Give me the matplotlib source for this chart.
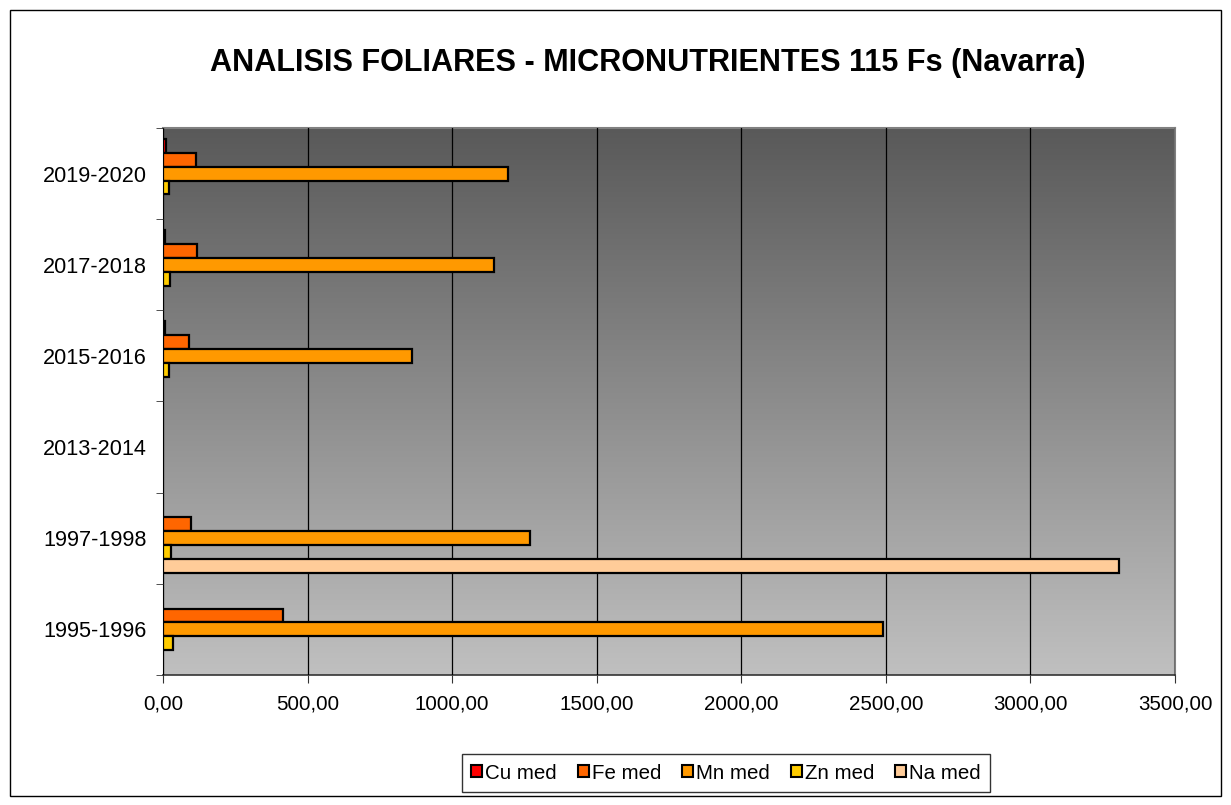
import matplotlib.pyplot as plt
import matplotlib.patches as mpatches
from matplotlib.colors import LinearSegmentedColormap
import numpy as np

plt.rcParams['font.family'] = ['Liberation Sans', 'DejaVu Sans']

periodos = ['1995-1996', '1997-1998', '2013-2014', '2015-2016', '2017-2018', '2019-2020']
cu_med = [np.nan, np.nan, np.nan, 7, 7, 9]
fe_med = [414, 97, np.nan, 91, 118, 113]
mn_med = [2490, 1268, np.nan, 862, 1145, 1193]
zn_med = [33, 26, np.nan, 22, 24, 21]
na_med = [np.nan, 3305, np.nan, np.nan, np.nan, np.nan]

series = ['Cu med', 'Fe med', 'Mn med', 'Zn med', 'Na med']
colores = ['#FF0000', '#FF6600', '#FF9900', '#FFCC00', '#FFCC99']

fig = plt.figure(figsize=(12.31, 8.05), dpi=100)
ax = fig.add_axes([163/1231, 1-675/805, 1012/1231, 547/805])

# fondo degradado (oscuro arriba, claro abajo)
grad = np.linspace(0, 1, 256).reshape(-1, 1)
cmap = LinearSegmentedColormap.from_list('fondo', ['#595959', '#C0C0C0'])
ax.imshow(grad, aspect='auto', cmap=cmap, extent=[0, 3500, -0.5, 5.5],
          origin='upper', zorder=0)

y = np.arange(len(periodos))
h = 0.152
datos = [cu_med, fe_med, mn_med, zn_med, na_med]
for i, (vals, c, lab) in enumerate(zip(datos, colores, series)):
    off = (2 - i) * h
    ax.barh(y + off, vals, height=h, color=c, edgecolor='black', linewidth=1.6,
            label=lab, zorder=3)

ax.set_xlim(0, 3500)
ax.set_ylim(-0.5, 5.5)
ax.set_xticks(np.arange(0, 3501, 500))
ax.set_xticklabels(['%d,00' % v for v in np.arange(0, 3501, 500)], fontsize=14.8)
ax.set_yticks(y)
ax.set_yticklabels(periodos, fontsize=15.6)
ax.set_yticks(np.arange(-0.5, 5.6, 1), minor=True)
ax.tick_params(axis='y', which='major', length=0, pad=11.5)
ax.tick_params(axis='y', which='minor', length=5, direction='out', color='#333333')
ax.tick_params(axis='x', length=6, direction='out', pad=8, color='#333333')
ax.grid(axis='x', color='black', linewidth=0.9, zorder=1)
ax.set_axisbelow(False)
for s in ['top', 'right']:
    ax.spines[s].set_color('#808080')
    ax.spines[s].set_linewidth(1.5)
ax.spines['left'].set_color('#555555')
ax.spines['bottom'].set_color('#333333')
ax.spines['bottom'].set_linewidth(1.2)

fig.text(648/1231, 1-63/805, 'ANALISIS FOLIARES - MICRONUTRIENTES 115 Fs (Navarra)',
         ha='center', va='center', fontsize=22.1, fontweight='bold')

handles = [mpatches.Patch(facecolor=c, edgecolor='black', linewidth=1.5) for c in colores]
leg = fig.legend(handles, series, loc='center', bbox_to_anchor=(726/1231, 1-773/805),
                 ncol=5, fontsize=14.8, frameon=True, fancybox=False, edgecolor='black',
                 handlelength=0.55, handleheight=0.55, handletextpad=0.15, columnspacing=1.0,
                 borderpad=0.45)
leg.get_frame().set_linewidth(1.0)

fig.patches.append(mpatches.Rectangle((10/1231, 1-796/805), 1211/1231, 786/805,
                                      transform=fig.transFigure, fill=False,
                                      edgecolor='black', linewidth=1.0))

fig.savefig('out.png', dpi=100)
